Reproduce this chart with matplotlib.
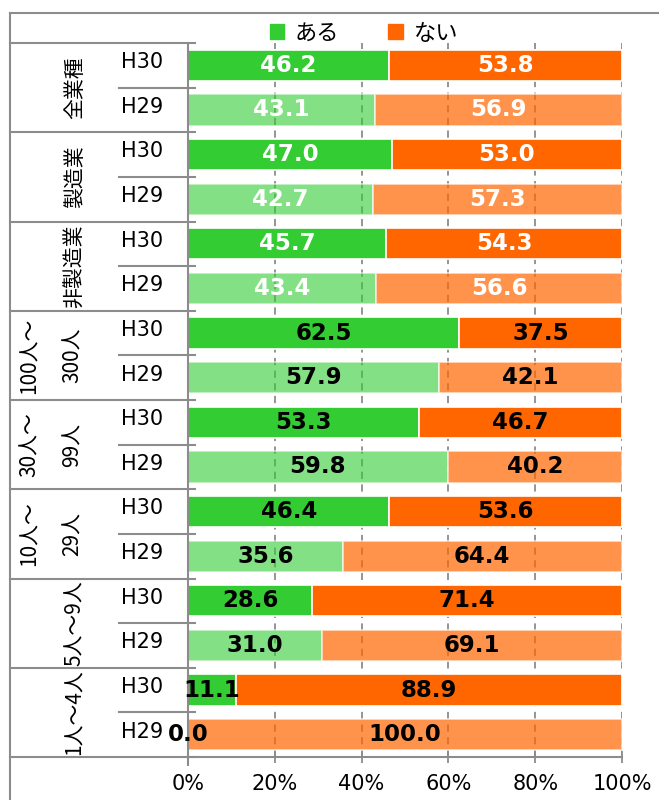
import matplotlib.pyplot as plt
import numpy as np
from matplotlib.patches import Patch
from matplotlib.lines import Line2D
from matplotlib.transforms import blended_transform_factory

plt.rcParams['font.family'] = ['DejaVu Sans', 'Noto Sans CJK JP']
CJK = ['Noto Sans CJK JP', 'DejaVu Sans']

# data
groups = [['全業種'], ['製造業'], ['非製造業'], ['100人～', '300人'],
          ['30人～', '99人'], ['10人～', '29人'], ['5人～9人'], ['1人～4人']]
years = ['H30', 'H29']
aru = [46.2, 43.1, 47.0, 42.7, 45.7, 43.4, 62.5, 57.9,
       53.3, 59.8, 46.4, 35.6, 28.6, 31.0, 11.1, 0.0]
nai = [53.8, 56.9, 53.0, 57.3, 54.3, 56.6, 37.5, 42.1,
       46.7, 40.2, 53.6, 64.4, 71.4, 69.1, 88.9, 100.0]
series = ['ある', 'ない']

aru = np.array(aru)
nai = np.array(nai)
tot = aru + nai
aru_p = aru / tot * 100
nai_p = nai / tot * 100

green, orange = '#33CC33', '#FF6600'
line_c = '#8C8C8C'

W, H = 659, 800
fig = plt.figure(figsize=(W / 100, H / 100), dpi=100)
x0, x1, ytop, ybot = 188, 622, 43, 757
ax = fig.add_axes([x0 / W, 1 - ybot / H, (x1 - x0) / W, (ybot - ytop) / H])

n = len(aru)
y = np.arange(n)
for i in range(n):
    a = 1.0 if i % 2 == 0 else 0.6
    b = 1.0 if i % 2 == 0 else 0.7
    ax.barh(y[i], aru_p[i], height=0.7, color=green, alpha=a,
            edgecolor='white', linewidth=1.2, zorder=2)
    ax.barh(y[i], nai_p[i], left=aru_p[i], height=0.7, color=orange, alpha=b,
            edgecolor='white', linewidth=1.2, zorder=2)
    tc = 'white' if i < 6 else 'black'
    ax.text(aru_p[i] / 2, y[i], f'{aru[i]:.1f}', ha='center', va='center',
            fontsize=16.5, fontweight='bold', color=tc, zorder=4)
    ax.text(aru_p[i] + nai_p[i] / 2, y[i], f'{nai[i]:.1f}', ha='center', va='center',
            fontsize=16.5, fontweight='bold', color=tc, zorder=4)

ax.set_xlim(0, 100)
ax.set_ylim(n - 0.5, -0.5)
ax.set_xticks(np.arange(0, 101, 20))
ax.set_xticklabels([f'{v}%' for v in range(0, 101, 20)], fontsize=15)
ax.set_yticks([])
ax.xaxis.grid(True, color=line_c, linestyle=(0, (4, 3)), linewidth=1.3, zorder=1)
ax.set_axisbelow(True)
ax.tick_params(axis='x', direction='inout', length=8, width=1.3, color=line_c, pad=8)
for s in ['top', 'right', 'left']:
    ax.spines[s].set_visible(False)
ax.spines['bottom'].set_color(line_c)
ax.spines['bottom'].set_linewidth(1.5)

# left-hand table lines and labels
tr = blended_transform_factory(ax.transAxes, ax.transData)
px = lambda p: (p - x0) / (x1 - x0)
lk = dict(color=line_c, linewidth=1.5, transform=tr, clip_on=False)
ax.plot([0, 0], [-0.5, n - 0.5 + 0.18], **lk)
for g in range(len(groups) + 1):
    ax.plot([px(10), px(195)], [2 * g - 0.5] * 2, **lk)
for g in range(len(groups)):
    ax.plot([px(119), px(195)], [2 * g + 0.5] * 2, **lk)
    for k, yr in enumerate(years):
        ax.text(px(121), 2 * g + k - 0.07, yr, transform=tr, fontsize=15,
                ha='left', va='center')
    lab = groups[g]
    if len(lab) == 1:
        ax.text(px(75), 2 * g + 0.5, lab[0], transform=tr, rotation=90,
                ha='center', va='center', fontsize=15, family=CJK)
    else:
        for xx, t in zip([30, 73], lab):
            ax.text(px(xx), 2 * g + 0.5, t, transform=tr, rotation=90,
                    ha='center', va='center', fontsize=15, family=CJK)

# outer frame
fig.add_artist(Line2D([10 / W, 1], [1 - 13 / H] * 2, color=line_c, linewidth=1.5))
fig.add_artist(Line2D([10 / W] * 2, [0, 1 - 13 / H], color=line_c, linewidth=1.5))

handles = [Patch(color=green), Patch(color=orange)]
fig.legend(handles, series, loc='center', bbox_to_anchor=(364 / W, 1 - 33 / H),
           ncol=2, frameon=False, handlelength=0.65, handleheight=0.65,
           handletextpad=0.5, columnspacing=2.2, prop={'family': CJK, 'size': 16})

fig.savefig('out.png', dpi=100)
